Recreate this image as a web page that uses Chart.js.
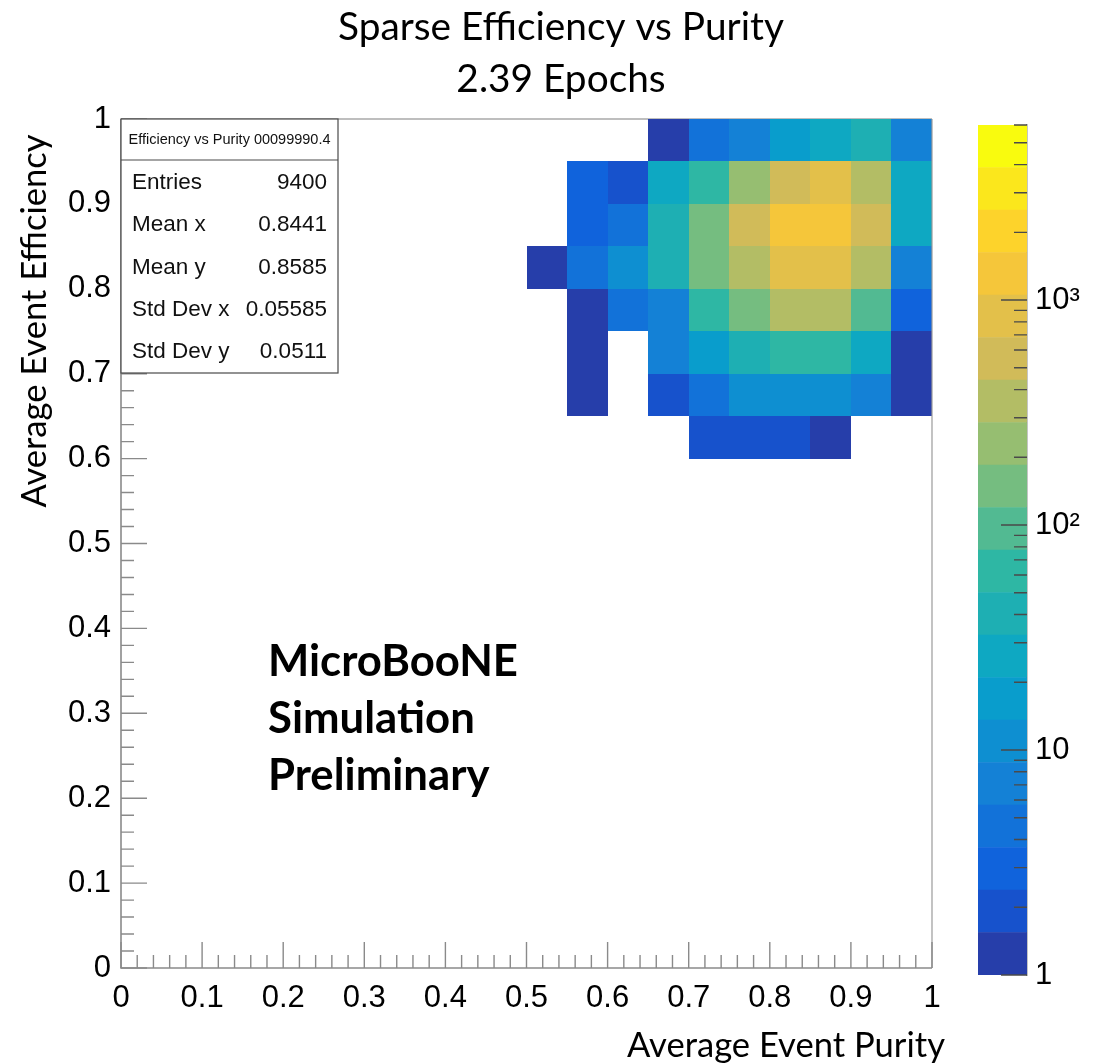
<!DOCTYPE html>
<html>
<head>
<meta charset="utf-8">
<script src="https://cdn.jsdelivr.net/npm/chart.js@4.4.0/dist/chart.umd.min.js"></script>
<style>
html,body{margin:0;padding:0;background:#ffffff;}
#wrap{position:relative;width:1099px;height:1063px;overflow:hidden;background:#fff;}
#main{position:absolute;left:0;top:0;}
#zbar{position:absolute;left:960px;top:0;}
</style>
</head>
<body>
<div id="wrap">
<canvas id="main" width="1099" height="1063" style="width:1099px;height:1063px"></canvas>
<canvas id="zbar" width="139" height="1063" style="width:139px;height:1063px"></canvas>
</div>
<script>
// ---------------- data ----------------
const titleLines = ['Sparse Efficiency vs Purity', '2.39 Epochs'];
const xAxisTitle = 'Average Event Purity';
const yAxisTitle = 'Average Event Efficiency';
const overlayLines = ['MicroBooNE', 'Simulation', 'Preliminary'];
const statsTitle = 'Efficiency vs Purity 00099990.4';
const statsLabels = ['Entries', 'Mean x', 'Mean y', 'Std Dev x', 'Std Dev y'];
const statsValues = ['9400', '0.8441', '0.8585', '0.05585', '0.0511'];

const axisTicks = [0, 0.1, 0.2, 0.3, 0.4, 0.5, 0.6, 0.7, 0.8, 0.9, 1];
const axisTickLabels = ['0', '0.1', '0.2', '0.3', '0.4', '0.5', '0.6', '0.7', '0.8', '0.9', '1'];

const binWidth = 0.05;
// lower edges of purity bins (x)
const xBinLow = [0.50, 0.55, 0.60, 0.65, 0.70, 0.75, 0.80, 0.85, 0.90, 0.95];
// lower edges of efficiency bins (y), top row first
const yBinLow = [0.95, 0.90, 0.85, 0.80, 0.75, 0.70, 0.65, 0.60];

// bin contents, one array per efficiency row (columns follow xBinLow)
const counts095 = [0, 0, 0, 1, 4, 7, 17, 26, 40, 7];
const counts090 = [0, 3, 2, 26, 62, 230, 500, 780, 350, 26];
const counts085 = [0, 3, 4, 40, 150, 500, 1200, 1200, 500, 26];
const counts080 = [1, 4, 11, 40, 150, 350, 780, 780, 350, 7];
const counts075 = [0, 1, 4, 7, 62, 150, 350, 350, 95, 3];
const counts070 = [0, 1, 0, 7, 17, 40, 62, 62, 26, 1];
const counts065 = [0, 1, 0, 2, 4, 11, 11, 11, 7, 1];
const counts060 = [0, 0, 0, 0, 2, 2, 2, 1, 0, 0];
const countRows = [counts095, counts090, counts085, counts080, counts075, counts070, counts065, counts060];

// colour axis
const zMin = 1;
const zMax = 6000;
const nLevels = 20;
const zTickValues = [1, 10, 100, 1000];
const zTickLabels = ['1', '10', '10\u00B2', '10\u00B3'];

// ---------------- palette (ROOT kBird) ----------------
const birdStops = [0.0000, 0.1250, 0.2500, 0.3750, 0.5000, 0.6250, 0.7500, 0.8750, 1.0000];
const birdR = [0.2082, 0.0592, 0.0780, 0.0232, 0.1802, 0.5301, 0.8186, 0.9956, 0.9764];
const birdG = [0.1664, 0.3599, 0.5041, 0.6419, 0.7178, 0.7492, 0.7328, 0.7862, 0.9832];
const birdB = [0.5293, 0.8684, 0.8385, 0.7914, 0.6425, 0.4662, 0.3499, 0.1968, 0.0539];
function birdColor(t) {
  t = Math.max(0, Math.min(1, t));
  let i = 0;
  while (i < birdStops.length - 2 && t > birdStops[i + 1]) i++;
  const f = (t - birdStops[i]) / (birdStops[i + 1] - birdStops[i]);
  const c = a => Math.round(255 * (a[i] + (a[i + 1] - a[i]) * f));
  return `rgb(${c(birdR)},${c(birdG)},${c(birdB)})`;
}
function levelColor(k) { return birdColor((k + 1) / nLevels); }
function levelOf(v) {
  const k = Math.floor(Math.log(v / zMin) / Math.log(zMax / zMin) * nLevels);
  return Math.max(0, Math.min(nLevels - 1, k));
}

const TICK_FONT = 'Liberation Sans, Arial, sans-serif';
const TEXT_FONT = 'Lato, "Open Sans", sans-serif';
const AXIS_GRAY = '#8a8a8a';

function fitFont(ctx, text, weight, family, target) {
  ctx.font = `${weight} 100px ${family}`;
  const w = ctx.measureText(text).width;
  return `${weight} ${(100 * target / w).toFixed(2)}px ${family}`;
}

// ---------------- main chart plugins ----------------
const histPlugin = {
  id: 'hist2d',
  beforeDatasetsDraw(chart) {
    const { ctx, chartArea: ca, scales: { x, y } } = chart;
    ctx.save();
    // frame (top line)
    ctx.strokeStyle = '#a8a8a8';
    ctx.lineWidth = 1.5;
    ctx.beginPath();
    ctx.moveTo(ca.left, ca.top); ctx.lineTo(ca.right, ca.top);
    ctx.stroke();
    // cells
    countRows.forEach((row, r) => {
      row.forEach((v, c) => {
        if (!v) return;
        const px0 = Math.round(x.getPixelForValue(xBinLow[c]));
        const px1 = Math.round(x.getPixelForValue(xBinLow[c] + binWidth));
        const py0 = Math.round(y.getPixelForValue(yBinLow[r] + binWidth));
        const py1 = Math.round(y.getPixelForValue(yBinLow[r]));
        ctx.fillStyle = levelColor(levelOf(v));
        ctx.fillRect(px0, py0, px1 - px0, py1 - py0);
      });
    });
    ctx.restore();
  },
  afterDatasetsDraw(chart) {
    const { ctx, chartArea: ca, scales: { x, y } } = chart;
    ctx.save();
    // right frame line
    ctx.strokeStyle = '#9a9a9a';
    ctx.lineWidth = 1.2;
    ctx.beginPath();
    ctx.moveTo(ca.right, ca.top); ctx.lineTo(ca.right, ca.bottom);
    ctx.stroke();
    // axes ticks (inward), major every 0.1, minor every 0.02
    ctx.strokeStyle = AXIS_GRAY;
    ctx.lineWidth = 1.4;
    ctx.beginPath();
    for (let i = 0; i <= 50; i++) {
      const v = i / 50;
      const len = (i % 5 === 0) ? 26 : 13;
      const px = x.getPixelForValue(v);
      ctx.moveTo(px, ca.bottom); ctx.lineTo(px, ca.bottom - len);
      const py = y.getPixelForValue(v);
      ctx.moveTo(ca.left, py); ctx.lineTo(ca.left + len, py);
    }
    ctx.stroke();
    // axis lines
    ctx.lineWidth = 1.6;
    ctx.beginPath();
    ctx.moveTo(ca.left, ca.top); ctx.lineTo(ca.left, ca.bottom); ctx.lineTo(ca.right, ca.bottom);
    ctx.stroke();

    // stats box
    const bx0 = ca.left, by0 = ca.top, bx1 = 338, by1 = 373, sep = 160;
    ctx.fillStyle = '#ffffff';
    ctx.fillRect(bx0, by0, bx1 - bx0, by1 - by0);
    ctx.strokeStyle = '#4a4a4a';
    ctx.lineWidth = 1.2;
    ctx.strokeRect(bx0, by0, bx1 - bx0, by1 - by0);
    ctx.beginPath(); ctx.moveTo(bx0, sep); ctx.lineTo(bx1, sep); ctx.stroke();
    ctx.fillStyle = '#111';
    ctx.textBaseline = 'middle';
    ctx.textAlign = 'center';
    ctx.font = `14.5px ${TICK_FONT}`;
    ctx.fillText(statsTitle, (bx0 + bx1) / 2, 140);
    ctx.font = `22.5px ${TICK_FONT}`;
    statsLabels.forEach((lab, i) => {
      const yy = 183 + i * 42.2;
      ctx.textAlign = 'left';
      ctx.fillText(lab, 132, yy);
      ctx.textAlign = 'right';
      ctx.fillText(statsValues[i], 327, yy);
    });

    // titles and overlay text
    ctx.fillStyle = '#000';
    ctx.textAlign = 'center';
    ctx.textBaseline = 'alphabetic';
    const tFont = fitFont(ctx, titleLines[0], 'normal', TEXT_FONT, 446);
    ctx.font = tFont;
    ctx.fillText(titleLines[0], 561, 40);
    ctx.fillText(titleLines[1], 561, 92);

    ctx.font = fitFont(ctx, xAxisTitle, 'normal', TEXT_FONT, 318);
    ctx.fillText(xAxisTitle, 786, 1057);

    ctx.save();
    ctx.translate(46, 321);
    ctx.rotate(-Math.PI / 2);
    ctx.font = fitFont(ctx, yAxisTitle, 'normal', TEXT_FONT, 373);
    ctx.fillText(yAxisTitle, 0, 0);
    ctx.restore();

    ctx.textAlign = 'left';
    ctx.font = fitFont(ctx, overlayLines[0], 'bold', TEXT_FONT, 250);
    overlayLines.forEach((t, i) => ctx.fillText(t, 268, 676 + i * 57));
    ctx.restore();
  }
};

new Chart(document.getElementById('main'), {
  type: 'scatter',
  data: { datasets: [{ data: [] }] },
  options: {
    responsive: false,
    animation: false,
    events: [],
    layout: { padding: { left: 0, top: 119, right: 167, bottom: 0 } },
    plugins: { legend: { display: false }, tooltip: { enabled: false }, title: { display: false } },
    scales: {
      x: {
        type: 'linear', min: 0, max: 1, position: 'bottom',
        afterFit(s) { s.height = 95; },
        afterBuildTicks(s) { s.ticks = axisTicks.map(v => ({ value: v })); },
        ticks: {
          autoSkip: false, maxRotation: 0, padding: 12, color: '#000',
          font: { family: TICK_FONT, size: 31 },
          callback: (v, i) => axisTickLabels[i]
        },
        grid: { display: false, drawTicks: false },
        border: { display: false }
      },
      y: {
        type: 'linear', min: 0, max: 1, position: 'left',
        afterFit(s) { s.width = 121; },
        afterBuildTicks(s) { s.ticks = axisTicks.map(v => ({ value: v })); },
        ticks: {
          autoSkip: false, padding: 10, color: '#000',
          font: { family: TICK_FONT, size: 31 },
          callback: (v, i) => axisTickLabels[i]
        },
        grid: { display: false, drawTicks: false },
        border: { display: false }
      }
    }
  },
  plugins: [histPlugin]
});

// ---------------- colour bar ----------------
const bandEdges = [];
for (let k = 0; k <= nLevels; k++) bandEdges.push(zMin * Math.pow(zMax / zMin, k / nLevels));

const zTickPlugin = {
  id: 'zticks',
  afterDraw(chart) {
    const { ctx, chartArea: ca, scales: { y } } = chart;
    ctx.save();
    ctx.strokeStyle = '#4a4a4a';
    ctx.lineWidth = 1.4;
    ctx.beginPath();
    for (let d = 1; d <= zMax; d *= 10) {
      for (let m = 1; m <= 9; m++) {
        const v = m * d;
        if (v > zMax) break;
        const py = y.getPixelForValue(v);
        const len = (m === 1) ? 26 : 13;
        ctx.moveTo(ca.right, py); ctx.lineTo(ca.right - len, py);
      }
    }
    ctx.stroke();
    ctx.restore();
  }
};

new Chart(document.getElementById('zbar'), {
  type: 'bar',
  data: {
    labels: ['z'],
    datasets: bandEdges.slice(0, -1).map((lo, k) => ({
      data: [[lo, bandEdges[k + 1]]],
      backgroundColor: levelColor(k),
      borderWidth: 0,
      grouped: false,
      barPercentage: 1,
      categoryPercentage: 1
    }))
  },
  options: {
    responsive: false,
    animation: false,
    events: [],
    layout: { padding: { left: 18, top: 125, right: 0, bottom: 88 } },
    plugins: { legend: { display: false }, tooltip: { enabled: false } },
    scales: {
      x: { display: false },
      y: {
        type: 'logarithmic', position: 'right', min: zMin, max: zMax,
        afterFit(s) { s.width = 72; },
        afterBuildTicks(s) { s.ticks = zTickValues.map(v => ({ value: v })); },
        ticks: {
          padding: 8, color: '#000',
          font: { family: TICK_FONT, size: 31 },
          callback: (v, i) => zTickLabels[i]
        },
        grid: { display: false, drawTicks: false },
        border: { display: true, color: '#8a8a8a', width: 1.5 }
      }
    }
  },
  plugins: [zTickPlugin]
});
</script>
</body>
</html>
